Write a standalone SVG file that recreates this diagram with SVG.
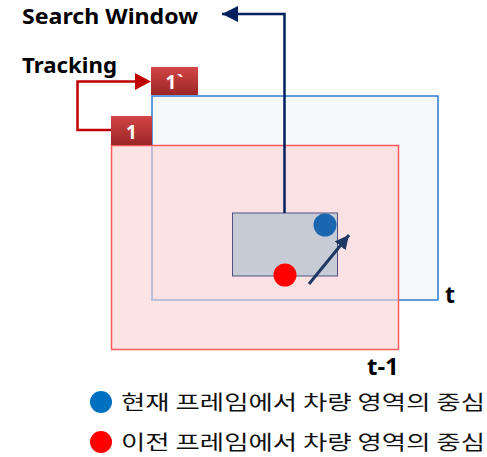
<svg xmlns="http://www.w3.org/2000/svg" width="487" height="457" viewBox="0 0 487 457">
<defs>
<style>
.en{font-family:"Noto Sans","Liberation Sans",sans-serif;font-weight:bold;fill:#000}
.kr{font-family:"Noto Sans CJK KR","Noto Sans",sans-serif;fill:#111;font-size:20px}
.lbl{font-family:"Noto Sans","Liberation Sans",sans-serif;font-weight:bold;fill:#fff;font-size:19px;text-anchor:middle}
</style>
<linearGradient id="rg" x1="0" y1="0" x2="0" y2="1">
<stop offset="0" stop-color="#d24545"/>
<stop offset="1" stop-color="#9c2626"/>
</linearGradient>
<marker id="ahNavy" markerWidth="16" markerHeight="16" viewBox="0 0 16 16" refX="16" refY="8" orient="auto" markerUnits="userSpaceOnUse">
<path d="M0,0 L16,8 L0,16 z" fill="#002060"/>
</marker>
<marker id="ahDark" markerWidth="14" markerHeight="14" viewBox="0 0 14 14" refX="14" refY="7" orient="auto" markerUnits="userSpaceOnUse">
<path d="M0,0 L14,7 L0,14 z" fill="#1f3864"/>
</marker>
</defs>
<rect width="487" height="457" fill="#fff"/>

<g id="frame-t">
<rect x="152" y="96" width="286" height="204" fill="#f7f8fb" stroke="#2e7bcf" stroke-width="1.5"/>
<text class="en" x="445" y="303" font-size="23">t</text>
</g>
<g id="frame-t-1">
<rect x="111.5" y="145.5" width="287" height="204" fill="#fcd3d5" fill-opacity="0.6" stroke="#ff5a5a" stroke-width="1.5"/>
<text class="en" x="367" y="375" font-size="24">t-1</text>
</g>
<g id="vehicle-region">
<rect x="232.5" y="213" width="105" height="63" fill="#c7cbd5" stroke="#505080" stroke-width="1"/>
</g>
<g id="current-center">
<circle cx="325" cy="225" r="11.5" fill="#1c66b0"/>
</g>
<g id="previous-center">
<circle cx="285" cy="275" r="11.5" fill="#ff0000"/>
</g>
<g id="label-1prime">
<rect x="151" y="67" width="47" height="28" fill="url(#rg)"/>
<text class="lbl" x="174.5" y="89">1`</text>
</g>
<g id="label-1">
<rect x="111" y="116" width="41" height="29" fill="url(#rg)"/>
<text class="lbl" x="131.5" y="139">1</text>
</g>
<g id="search-window">
<text class="en" x="22" y="24" font-size="21" textLength="176" lengthAdjust="spacingAndGlyphs">Search Window</text>
</g>
<g id="tracking">
<text class="en" x="22" y="73" font-size="21" textLength="95" lengthAdjust="spacingAndGlyphs">Tracking</text>
</g>
<g id="legend">
<circle cx="101" cy="402" r="11" fill="#0070c0"/>
<text class="kr" x="121" y="410" textLength="364" lengthAdjust="spacingAndGlyphs">현재 프레임에서 차량 영역의 중심</text>
<circle cx="101" cy="442" r="11" fill="#ff0000"/>
<text class="kr" x="121" y="450" textLength="364" lengthAdjust="spacingAndGlyphs">이전 프레임에서 차량 영역의 중심</text>
</g>

<g id="connectors" fill="none">
<path d="M111,130 H77.5 V81.5 H137" stroke="#c00000" stroke-width="2.5"/>
<path d="M135,73 L151,81.5 L135,90 z" fill="#c00000"/>
<path d="M284.5,213 V14 H222" stroke="#002060" stroke-width="2.5" marker-end="url(#ahNavy)"/>
<path d="M309,284 L349,235" stroke="#1f3864" stroke-width="3" marker-end="url(#ahDark)"/>
</g>
</svg>
